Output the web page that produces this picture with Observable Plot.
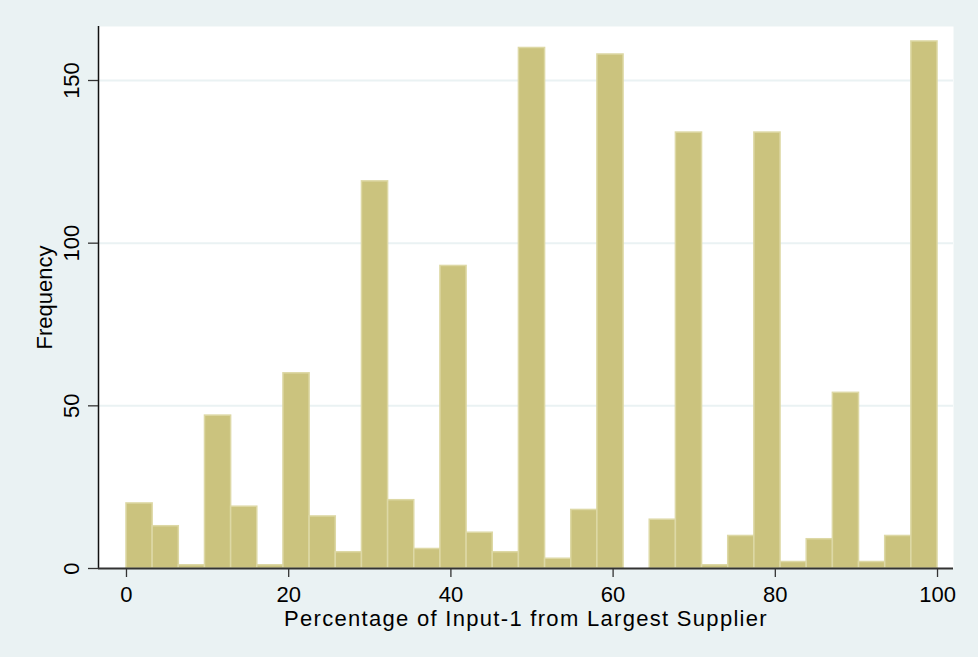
<!DOCTYPE html>
<html><head><meta charset="utf-8">
<script src="https://cdn.jsdelivr.net/npm/d3@7"></script>
<script src="https://cdn.jsdelivr.net/npm/@observablehq/plot@0.6"></script>
<style>html,body{margin:0;padding:0;background:#eaf2f3;}</style>
</head><body><div id="chart"></div>
<script>
const binCount = 31;
const binRange = [0, 100];
const frequencies = [20,13,1,47,19,1,60,16,5,119,21,6,93,11,5,160,3,18,158,0,15,134,1,10,134,2,9,54,2,10,162];
const xTicks = [0,20,40,60,80,100];
const yTicks = [0,50,100,150];
const xTitle = "Percentage of Input-1 from Largest Supplier";
const yTitle = "Frequency";

const binWidth = (binRange[1] - binRange[0]) / binCount;
const bins = frequencies.map((f, i) => ({
  x1: binRange[0] + i * binWidth,
  x2: binRange[0] + (i + 1) * binWidth,
  count: f
}));
const xDomain = [-3.45, 101.97];
const yDomain = [0, 166.6];
const font = "'Liberation Sans', Arial, Helvetica, sans-serif";

const chart = Plot.plot({
  width: 978, height: 657,
  marginLeft: 98, marginRight: 25, marginTop: 26, marginBottom: 89,
  style: {background: "#eaf2f3", fontFamily: font, fontSize: "22px", color: "#000"},
  x: {domain: xDomain},
  y: {domain: yDomain},
  marks: [
    Plot.frame({fill: "white", stroke: null}),
    Plot.ruleY(yTicks.filter(d => d > 0), {stroke: "#eaf2f3", strokeWidth: 2}),
    Plot.rectY(bins.filter(d => d.count > 0), {x1: "x1", x2: "x2", y: "count", fill: "#cbc37e", stroke: "#ddd8a5", strokeWidth: 1.5}),
    Plot.ruleX([xDomain[0]], {stroke: "#111", strokeWidth: 1.5}),
    Plot.ruleY([0], {stroke: "#333", strokeWidth: 2}),
    Plot.axisX({ticks: xTicks, tickSize: 9, tickPadding: 9, tickFormat: d => String(d), fontSize: 22, label: null, stroke: "#333", strokeWidth: 1.3}),
    Plot.axisY({ticks: yTicks, tickSize: 10, tickFormat: () => "", label: null, stroke: "#333", strokeWidth: 1.3}),
    Plot.text(yTicks, {x: xDomain[0], y: d => d, text: d => String(d), rotate: -90, dx: -20, lineAnchor: "bottom", textAnchor: "middle", fontSize: 22}),
    Plot.text([yTitle], {frameAnchor: "left", dx: -47, rotate: -90, lineAnchor: "bottom", textAnchor: "middle", fontSize: 22}),
    Plot.text([xTitle], {frameAnchor: "bottom", dy: 57, lineAnchor: "bottom", textAnchor: "middle", fontSize: 22})
  ]
});
d3.select(chart).selectAll("text").filter(function() { return this.textContent === xTitle; })
  .style("letter-spacing", "1.3px");
document.getElementById("chart").appendChild(chart);
</script>
</body></html>
